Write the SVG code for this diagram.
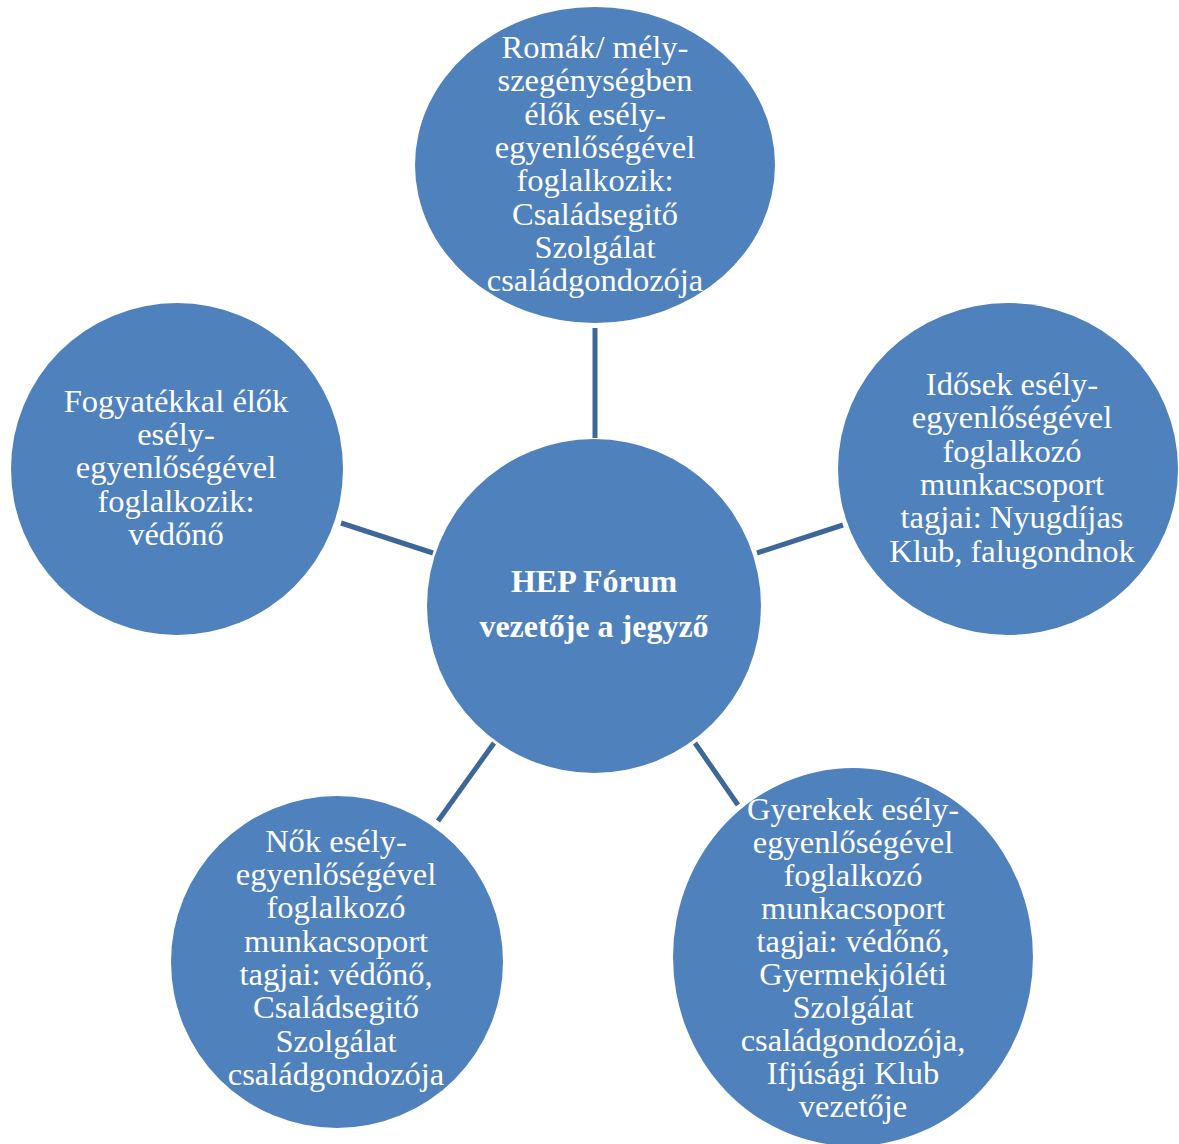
<svg xmlns="http://www.w3.org/2000/svg" width="1179" height="1144" viewBox="0 0 1179 1144">
<style>
.n{fill:#4F81BD;}
.c{stroke:#3D6699;stroke-width:5;fill:none;}
text{font-family:"Liberation Serif","Times New Roman",serif;font-size:32.5px;fill:#FFFFFF;text-anchor:middle;}
.b{font-weight:bold;font-size:32px;}
</style>
<rect width="1179" height="1144" fill="#FFFFFF"/>
<g id="connectors">
<line class="c" x1="595" y1="328" x2="595" y2="438"/>
<line class="c" x1="341" y1="523" x2="433" y2="553"/>
<line class="c" x1="757" y1="553" x2="843" y2="525"/>
<line class="c" x1="494" y1="743" x2="438" y2="821"/>
<line class="c" x1="695" y1="743" x2="738" y2="805"/>
</g>
<g id="center">
<circle class="n" cx="594" cy="606" r="167"/>
<text class="b" x="594" y="592">HEP Fórum</text>
<text class="b" x="594" y="637">vezetője a jegyző</text>
</g>
<g id="top">
<ellipse class="n" cx="595" cy="165" rx="180" ry="158"/>
<text x="595" y="58">Romák/ mély-</text>
<text x="595" y="91">szegénységben</text>
<text x="595" y="125">élők esély-</text>
<text x="595" y="158">egyenlőségével</text>
<text x="595" y="191">foglalkozik:</text>
<text x="595" y="225">Családsegitő</text>
<text x="595" y="258">Szolgálat</text>
<text x="595" y="291">családgondozója</text>
</g>
<g id="left">
<circle class="n" cx="177" cy="469" r="166"/>
<text x="176" y="412">Fogyatékkal élők</text>
<text x="176" y="445">esély-</text>
<text x="176" y="478">egyenlőségével</text>
<text x="176" y="512">foglalkozik:</text>
<text x="176" y="545">védőnő</text>
</g>
<g id="right">
<ellipse class="n" cx="1008" cy="469" rx="170" ry="166"/>
<text x="1012" y="395">Idősek esély-</text>
<text x="1012" y="428">egyenlőségével</text>
<text x="1012" y="462">foglalkozó</text>
<text x="1012" y="495">munkacsoport</text>
<text x="1012" y="528">tagjai: Nyugdíjas</text>
<text x="1012" y="562">Klub, falugondnok</text>
</g>
<g id="bottom-left">
<circle class="n" cx="337" cy="962" r="166"/>
<text x="336" y="852">Nők esély-</text>
<text x="336" y="885">egyenlőségével</text>
<text x="336" y="918">foglalkozó</text>
<text x="336" y="952">munkacsoport</text>
<text x="336" y="985">tagjai: védőnő,</text>
<text x="336" y="1018">Családsegitő</text>
<text x="336" y="1052">Szolgálat</text>
<text x="336" y="1085">családgondozója</text>
</g>
<g id="bottom-right">
<ellipse class="n" cx="853" cy="957" rx="180" ry="189"/>
<text x="853" y="820">Gyerekek esély-</text>
<text x="853" y="853">egyenlőségével</text>
<text x="853" y="886">foglalkozó</text>
<text x="853" y="919">munkacsoport</text>
<text x="853" y="952">tagjai: védőnő,</text>
<text x="853" y="985">Gyermekjóléti</text>
<text x="853" y="1018">Szolgálat</text>
<text x="853" y="1051">családgondozója,</text>
<text x="853" y="1084">Ifjúsági Klub</text>
<text x="853" y="1117">vezetője</text>
</g>
</svg>
